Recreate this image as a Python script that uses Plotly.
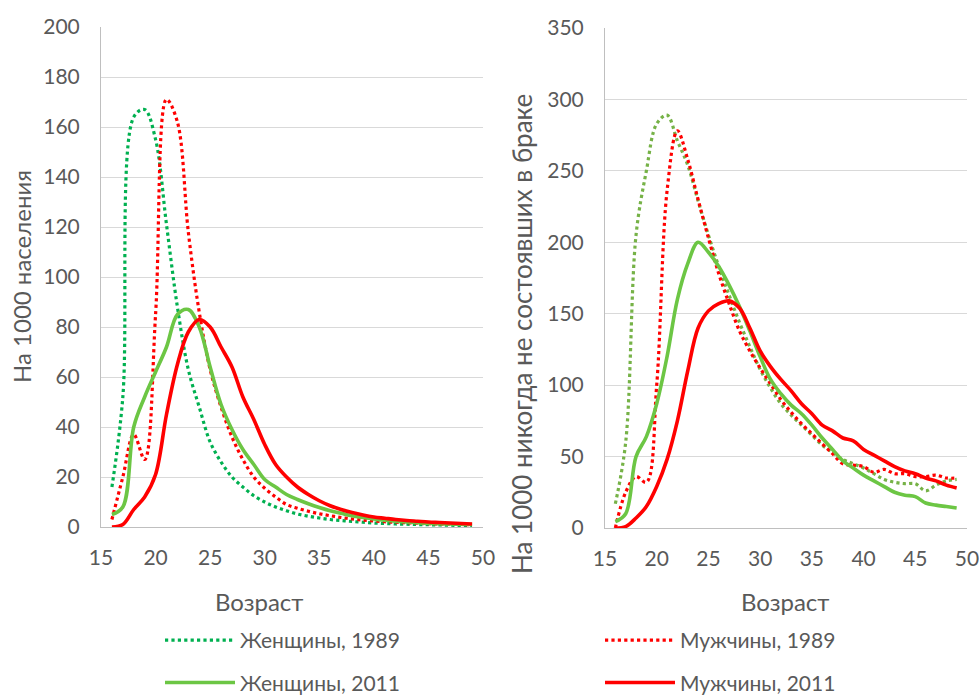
import plotly.graph_objects as go

# ---------------- data ----------------
ages = list(range(16, 50))

# Left panel: per 1000 population
left_women_1989 = [16, 52, 164, 167, 155, 121, 88, 63, 48, 34, 26, 20, 16, 12.5, 10, 8, 6.5, 5.2, 4.3,
                   3.6, 3, 2.6, 2.2, 1.9, 1.6, 1.4, 1.2, 1.1, 1, 0.9, 0.8, 0.7, 0.6, 0.5]
left_men_1989 = [3, 20, 37, 27, 85, 171, 162, 118, 86, 63, 48, 36, 27, 20, 15.5, 12, 9, 7.5, 6.3,
                 5.3, 4.5, 3.8, 3.2, 2.8, 2.4, 2.1, 1.9, 1.7, 1.5, 1.3, 1.2, 1.1, 1, 0.9]
left_women_2011 = [5, 8, 40, 52, 62, 72, 85, 87, 80, 64, 49, 39, 31, 25, 19, 16, 13, 11, 9.3,
                   7.8, 6.5, 5.5, 4.5, 3.8, 3.2, 2.7, 2.3, 2, 1.7, 1.5, 1.3, 1.2, 1.1, 1]
left_men_2011 = [0, 1, 7, 12, 21, 45, 65, 78, 83, 80, 72, 64, 52, 43, 33, 25, 20, 16, 13,
                 10.5, 8.5, 7, 5.8, 4.8, 4, 3.5, 3, 2.6, 2.3, 2, 1.8, 1.6, 1.4, 1.2]

# Right panel: per 1000 never married
right_women_1989 = [17, 60, 205, 250, 283, 289, 271, 254, 229, 205, 183, 163, 144, 127, 111, 98, 87, 79, 72,
                    65, 58, 53, 48, 45, 42, 38, 34, 32, 31, 31, 26, 30, 33, 34]
right_men_1989 = [0, 25, 36, 32, 100, 236, 278, 258, 230, 203, 178, 157, 138, 124, 112, 101, 90, 81, 73,
                  66, 59, 52, 45, 44, 43, 39, 41, 38, 38, 36, 36, 37, 35, 35]
right_women_2011 = [4.5, 10, 50, 64, 87, 120, 160, 185, 200, 193, 183, 170, 155, 138, 120, 104, 94, 86, 80,
                    72, 63, 55, 47, 42, 37, 33, 29, 25, 23, 22, 17.5, 16, 15, 14]
right_men_2011 = [0, 1, 7, 15, 29, 48, 75, 110, 140, 152, 157, 159, 154, 140, 124, 113, 104, 96, 87,
                  80, 72, 68, 63, 61, 55, 51, 47, 43, 40, 38, 35, 33, 30, 28]

names = ["Женщины, 1989", "Женщины, 2011", "Мужчины, 1989", "Мужчины, 2011"]
x_title = "Возраст"
y_title_left = "На 1000 населения"
y_title_right = "На 1000 никогда не состоявших в браке"

# ---------------- styles ----------------
TEAL = "#00B050"
LGREEN = "#76B247"
GREEN = "#6CC644"
RED = "#FF0000"
TXT = "#595959"
FONT = "Lato"
FS = 21

fig = go.Figure()

def add(x, y, color, dash, xa, ya, name=None, legend=None, show=False, group=None):
    fig.add_trace(go.Scatter(
        x=x, y=y, mode="lines", name=name,
        line=dict(color=color, width=3.6 if dash == "solid" else 3.2, dash=dash,
                  shape="spline", smoothing=1.0),
        xaxis=xa, yaxis=ya, showlegend=show, legend=legend, legendgroup=group,
        cliponaxis=False, hoverinfo="skip"))

# left panel
add(ages, left_women_1989, TEAL, "dot", "x", "y", names[0], "legend", True, "w89")
add(ages, left_men_1989, RED, "dot", "x", "y", names[2], "legend2", True, "m89")
add(ages, left_women_2011, GREEN, "solid", "x", "y", names[1], "legend", True, "w11")
add(ages, left_men_2011, RED, "solid", "x", "y", names[3], "legend2", True, "m11")
# right panel
add(ages, right_women_1989, LGREEN, "dot", "x2", "y2")
add(ages, right_men_1989, RED, "dot", "x2", "y2")
add(ages, right_women_2011, GREEN, "solid", "x2", "y2")
add(ages, right_men_2011, RED, "solid", "x2", "y2")

W, H = 979, 695
def px(xp):
    return xp / W
def py(yp):
    return 1 - yp / H

xcommon = dict(range=[15, 50], dtick=5, tick0=15, showgrid=False, zeroline=False,
               showline=True, linecolor="#BFBFBF", linewidth=1, ticks="",
               tickfont=dict(family=FONT, size=FS, color=TXT), ticklabelstandoff=12,
               ticklabeloverflow="allow")
ycommon = dict(showgrid=True, gridcolor="#D9D9D9", gridwidth=1, zeroline=False,
               showline=True, linecolor="#BFBFBF", linewidth=1, ticks="",
               tickfont=dict(family=FONT, size=FS, color=TXT), ticklabelstandoff=16)

fig.update_layout(
    width=W, height=H,
    margin=dict(l=0, r=0, t=0, b=0, autoexpand=False),
    paper_bgcolor="white", plot_bgcolor="white",
    font=dict(family=FONT, size=FS, color=TXT),
    xaxis=dict(domain=[px(101), px(483)], anchor="y", automargin=False, **xcommon),
    yaxis=dict(domain=[py(527), py(27)], anchor="x", range=[0, 200], dtick=20,
               automargin=False, **ycommon),
    xaxis2=dict(domain=[px(605), px(967)], anchor="y2", automargin=False, **xcommon),
    yaxis2=dict(domain=[py(528), py(28)], anchor="x2", range=[0, 350], dtick=50,
                automargin=False, **ycommon),
    legend=dict(x=px(160), y=py(620), xanchor="left", yanchor="top", orientation="v",
                font=dict(family=FONT, size=FS, color=TXT), itemwidth=70,
                tracegroupgap=12, bgcolor="rgba(0,0,0,0)"),
    legend2=dict(x=px(600), y=py(620), xanchor="left", yanchor="top", orientation="v",
                 font=dict(family=FONT, size=FS, color=TXT), itemwidth=70,
                 tracegroupgap=12, bgcolor="rgba(0,0,0,0)"),
    showlegend=True,
)

ann = [
    dict(text=x_title, x=px(259), y=py(601), size=24),
    dict(text=x_title, x=px(785), y=py(601), size=24),
    dict(text=y_title_left, x=px(21), y=py(277), textangle=-90, size=24),
    dict(text=y_title_right, x=px(522), y=py(334), textangle=-90, size=26),
]
for a in ann:
    s = a.pop("size")
    fig.add_annotation(xref="paper", yref="paper", showarrow=False,
                       xanchor="center", yanchor="middle",
                       font=dict(family=FONT, size=s, color=TXT), **a)

fig.write_html(
    "out.html",
    config={"displayModeBar": False},
    post_script="document.body.style.margin='0px';document.body.style.overflow='hidden';",
)
